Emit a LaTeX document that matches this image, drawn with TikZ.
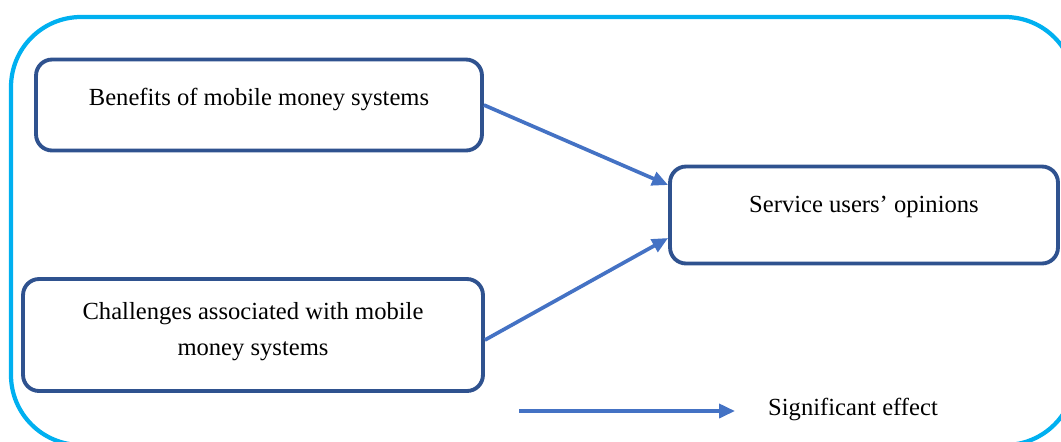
\documentclass[tikz,border=0pt]{standalone}
\usepackage{fontspec}
\setmainfont{Liberation Serif}
\usepackage{tikz}
\usetikzlibrary{positioning,arrows.meta,calc}
\definecolor{frameblue}{RGB}{0,176,240}
\definecolor{boxblue}{RGB}{47,82,143}
\definecolor{arrowblue}{RGB}{68,114,196}
\tikzset{
  factorbox/.style={draw=boxblue, line width=2.2pt, rounded corners=0.32cm, fill=white,
                    align=center, font=\fontsize{14}{20}\selectfont},
  arr/.style={-{Triangle[length=0.32cm,width=0.28cm]}, line width=2.1pt, arrowblue},
  legendtext/.style={font=\fontsize{14}{20}\selectfont}
}

\begin{document}
\begin{tikzpicture}[x=0.02cm, y=-0.02cm]
  \path[use as bounding box, clip] (0,0) rectangle (1061,441);

  %% Outer frame
  \draw[frameblue, line width=2.4pt, rounded corners=1.4cm] (11,17) rectangle (1075,445);

  %% Factors
  \node[factorbox, minimum width=8.92cm, minimum height=1.82cm, text depth=0.34cm]
       (benefits) at (259,105) {Benefits of mobile money systems};
  \node[factorbox, minimum width=9.2cm, minimum height=2.24cm, text depth=0.24cm]
       (challenges) at (253,335) {Challenges associated with mobile\\money systems};

  %% Outcome
  \node[factorbox, minimum width=7.76cm, minimum height=1.94cm, text depth=0.42cm]
       (opinions) at (864,215) {Service users' opinions};

  \draw[arr] (benefits.east) -- ([yshift=0.6cm]opinions.west);
  \draw[arr] ([yshift=-0.1cm]challenges.east) -- ([yshift=-0.46cm]opinions.west);

  %% Legend
  \coordinate (legstart) at (519,411);
  \node[legendtext, anchor=west] (legend) at (762,409) {Significant effect};
  \draw[arr, shorten >=0.54cm] (legstart) -- (legstart -| legend.west);
\end{tikzpicture}
\end{document}
